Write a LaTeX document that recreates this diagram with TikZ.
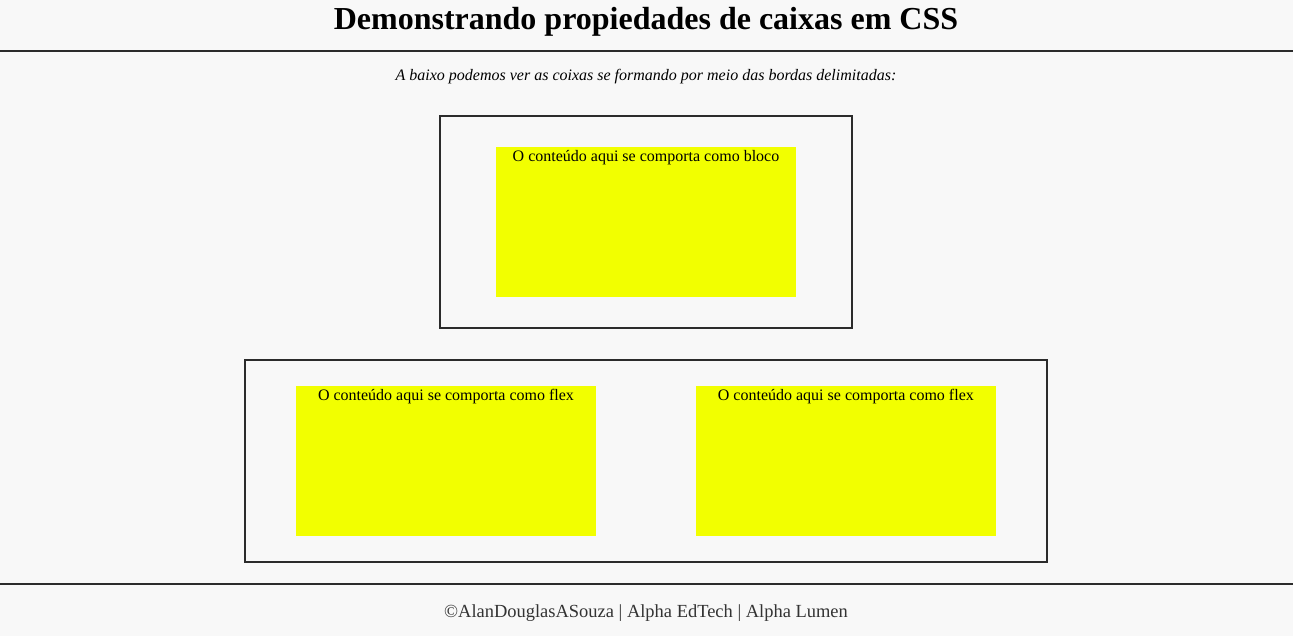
\documentclass[tikz,border=0pt]{standalone}
\usepackage{fontspec}
\setmainfont{Liberation Serif}
\usepackage{tikz}
\usetikzlibrary{positioning}
\definecolor{fundo}{HTML}{F8F8F8}
\definecolor{amarelo}{HTML}{F2FF00}
\definecolor{contorno}{HTML}{2B2B2B}
\definecolor{rodape}{HTML}{333333}
\tikzstyle{borda} = [rectangle, draw=contorno, line width=1.5pt, inner sep=0pt]
\tikzstyle{caixa} = [rectangle, fill=amarelo, inner sep=0pt, minimum width=225pt, minimum height=112.5pt]
\tikzstyle{rotulo} = [anchor=north, inner sep=0pt, font=\fontsize{12}{14}\selectfont, text height=11pt, text depth=3pt]
\tikzstyle{regua} = [draw=contorno, line width=1.5pt]

\begin{document}
\begin{tikzpicture}[x=0.75pt, y=-0.75pt]
		\useasboundingbox (0,0) rectangle (1293,636);
		\fill [fundo] (0,0) rectangle (1293,636);
		\node (titulo) [font=\fontsize{24}{28}\selectfont\bfseries] at (646,21.5) {Demonstrando propiedades de caixas em CSS};
		\coordinate (h1) at (0,51);
		\coordinate (h2) at (1293,51);
		\draw [regua] (h1) -- (h2);
		\node (sub) [font=\fontsize{12}{14}\selectfont\itshape] at (646,77) {A baixo podemos ver as coixas se formando por meio das bordas delimitadas:};
		% bloco
		\node (bloco) [borda, minimum width=309pt, minimum height=159pt] at (646,222) {};
		\node (c1) [caixa] at (646,222) {};
		\node (t1) [rotulo] at (c1.north) {O conteúdo aqui se comporta como bloco};
		% flex
		\node (flex) [borda, minimum width=601.5pt, minimum height=151.5pt] at (646,461) {};
		\node (c2) [caixa] at (446,461) {};
		\node (c3) [caixa, right=74.5pt of c2] {};
		\node (t2) [rotulo] at (c2.north) {O conteúdo aqui se comporta como flex};
		\node (t3) [rotulo] at (c3.north) {O conteúdo aqui se comporta como flex};
		% rodape
		\coordinate (f1) at (0,584);
		\coordinate (f2) at (1293,584);
		\draw [regua] (f1) -- (f2);
		\node (autor) [text=rodape, font=\fontsize{13.85}{16}\selectfont] at (646,613) {©AlanDouglasASouza | Alpha EdTech | Alpha Lumen};
\end{tikzpicture}
\end{document}
